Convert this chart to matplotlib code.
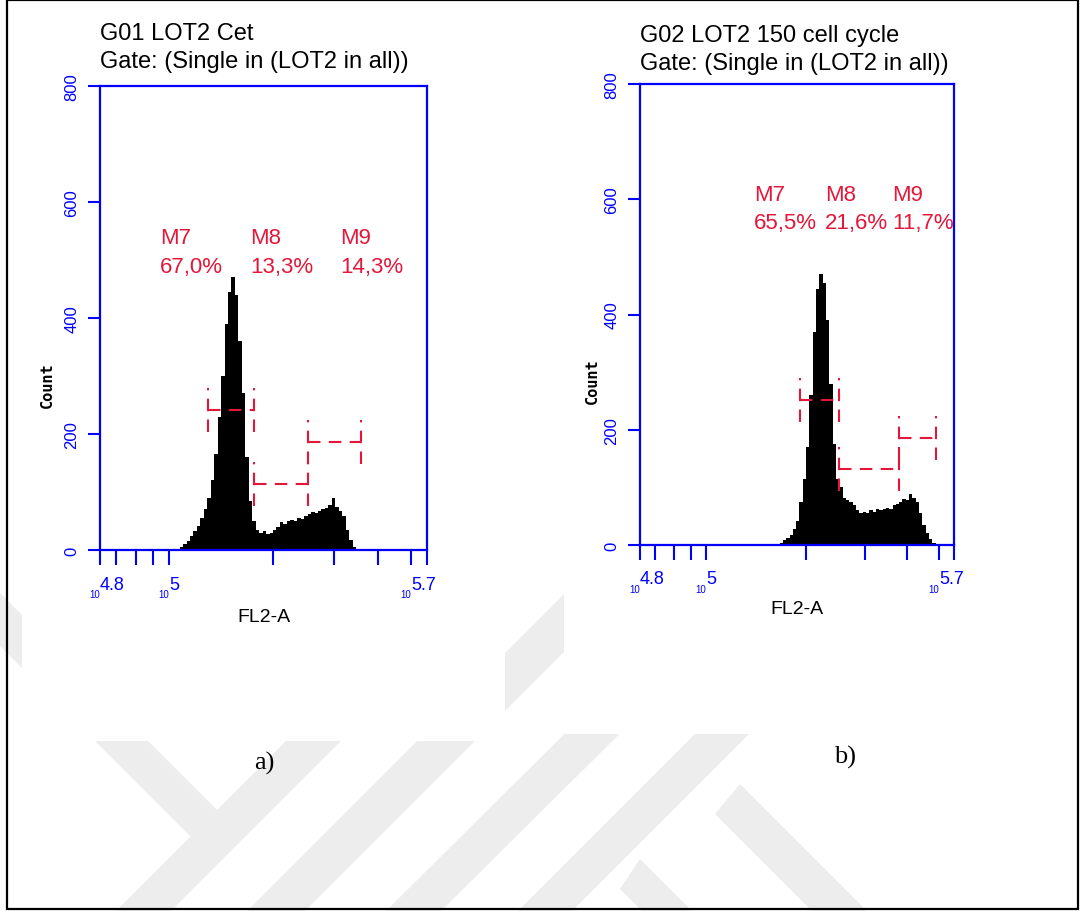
import matplotlib
matplotlib.use('Agg')
import matplotlib.pyplot as plt
import numpy as np
from matplotlib.patches import Polygon, Rectangle
from matplotlib.ticker import NullLocator
from matplotlib.transforms import blended_transform_factory

# ---- data (log10 of FL2-A bin start, bin width 0.01) ----
bins_a_start = 5.02
counts_a = [2, 6, 10, 16, 24, 32, 42, 55, 70, 90,
            120, 165, 230, 300, 390, 445, 470, 440, 360, 270,
            160, 85, 50, 35, 30, 32, 28, 30, 35, 40,
            48, 45, 50, 52, 50, 55, 53, 58, 62, 65,
            63, 68, 70, 72, 78, 90, 75, 68, 58, 35,
            18, 6, 2]

bins_b_start = 5.21
counts_b = [2, 4, 8, 12, 18, 28, 42, 75, 115, 170,
            260, 370, 445, 470, 455, 390, 280, 175, 115, 100,
            82, 78, 75, 70, 60, 55, 58, 55, 60, 58,
            62, 60, 62, 65, 62, 70, 72, 75, 80, 78,
            88, 82, 75, 55, 35, 20, 10, 4]

# marker gates: (log start, log end, count level)
gates_a = [(5.112, 5.245, 241), (5.245, 5.401, 114), (5.401, 5.554, 186)]
gates_b = [(5.282, 5.399, 252), (5.399, 5.580, 132), (5.580, 5.692, 186)]
gate_names = ['M7', 'M8', 'M9']
pct_a = ['67,0%', '13,3%', '14,3%']
pct_b = ['65,5%', '21,6%', '11,7%']
label_x_a = [4.973, 5.234, 5.494]
label_x_b = [5.143, 5.357, 5.559]

titles_a = ['G01 LOT2 Cet', 'Gate: (Single in (LOT2 in all))']
titles_b = ['G02 LOT2 150 cell cycle', 'Gate: (Single in (LOT2 in all))']

yticks = [0, 200, 400, 600, 800]
xticks = [10**4.8, 7e4, 8e4, 9e4, 1e5, 2e5, 3e5, 4e5, 5e5, 10**5.745]
xlabels = [(4.8, '4.8'), (5.0, '5'), (5.7, '5.7')]

W, H = 1081, 912
SANS = ['Liberation Sans', 'DejaVu Sans']
BLUE = '#0000ff'
RED = '#e3173a'

fig = plt.figure(figsize=(W / 100, H / 100), dpi=100)
fig.patch.set_facecolor('white')


def px(x, y):
    return (x / W, 1 - y / H)


# faint watermark behind the two pictures
wm = '#ededed'
bands = [
    [(-60, 534), (-60, 587), (210, 857), (237, 831)],     # Y left arm
    [(286, 742), (341, 742), (171, 912), (116, 912)],     # Y stem
    [(564, 595), (622, 595), (305, 912), (247, 912)],
    [(640, 660), (695, 660), (441, 912), (386, 912)],
    [(695, 735), (749, 735), (572, 912), (518, 912)],     # K long stroke
    [(740, 785), (715, 815), (815, 915), (870, 915)],
    [(640, 860), (620, 890), (650, 920), (700, 920)],
]
for b in bands:
    fig.patches.append(Polygon([px(*p) for p in b], closed=True, transform=fig.transFigure,
                               facecolor=wm, edgecolor='none', zorder=-3))
for (x0, y0, x1, y1) in [(22, 3, 505, 742), (564, 3, 1081, 735)]:
    fig.patches.append(Rectangle(px(x0, y1), (x1 - x0) / W, (y1 - y0) / H, transform=fig.transFigure,
                                 facecolor='white', edgecolor='none', zorder=-2))
# page border
fig.patches.append(Rectangle(px(7, 910), 1071 / W, 909 / H, transform=fig.transFigure,
                             facecolor='none', edgecolor='black', lw=1.6, zorder=5))


def panel(rect, start, counts, gates, pct, label_x, label_y, titles, title_y, count_pos, fl2_y, cap, cap_pos):
    ax = fig.add_axes(rect)
    ax.patch.set_alpha(0)
    edges = 10 ** (start + 0.01 * np.arange(len(counts) + 1))
    ax.stairs(counts, edges, fill=True, color='black', zorder=2)
    ax.set_xscale('log')
    ax.set_xlim(10**4.8, 10**5.745)
    ax.set_ylim(0, 800)
    for s in ax.spines.values():
        s.set_color(BLUE)
        s.set_linewidth(1.6)
    ax.set_xticks(xticks)
    ax.set_xticklabels([])
    ax.xaxis.set_minor_locator(NullLocator())
    ax.tick_params(axis='x', length=11, width=1.5, color=BLUE)
    ax.set_yticks(yticks)
    ax.set_yticklabels([str(v) for v in yticks], rotation=90, va='center',
                       color=BLUE, fontsize=12, family=SANS)
    ax.tick_params(axis='y', length=9, width=1.5, color=BLUE, pad=6)

    # gate markers
    for (g0, g1, lvl) in gates:
        kw = dict(color=RED, lw=1.5, dashes=(6, 4), zorder=3)
        ax.plot([10**g0, 10**g1], [lvl, lvl], **kw)
        ax.plot([10**g0, 10**g0], [lvl - 38, lvl + 38], **kw)
        ax.plot([10**g1, 10**g1], [lvl - 38, lvl + 38], **kw)
    for name, p, lx in zip(gate_names, pct, label_x):
        ax.text(10**lx, label_y, name, color=RED, fontsize=16, family=SANS, va='center', ha='left')
        ax.text(10**lx, label_y - 50, p, color=RED, fontsize=16, family=SANS, va='center', ha='left')

    # x tick labels like 10^4.8 with small base
    tr = blended_transform_factory(ax.transData, ax.transAxes)
    for v, s in xlabels:
        ax.text(10**v, -0.055, s, transform=tr, color=BLUE, fontsize=13, family=SANS,
                ha='left', va='top')
        ax.text(10**v, -0.085, '10', transform=tr, color=BLUE, fontsize=7, family=SANS,
                ha='right', va='top')

    x0 = rect[0] * W
    fig.text(*px(x0, title_y), titles[0], fontsize=17, family=SANS, va='baseline')
    fig.text(*px(x0, title_y + 28), titles[1], fontsize=17, family=SANS, va='baseline')
    fig.text(*px(*count_pos), 'Count', rotation=90, fontsize=11, family='DejaVu Sans Mono',
             weight='bold', ha='center', va='center')
    cx = (rect[0] + rect[2] / 2) * W
    fig.text(*px(cx, fl2_y), 'FL2-A', fontsize=14, family=SANS, ha='center', va='center')
    fig.text(*px(*cap_pos), cap, fontsize=19, family='Liberation Serif', ha='center', va='center')
    return ax


panel([100 / W, 1 - 551 / H, 327 / W, 464 / H], bins_a_start, counts_a, gates_a, pct_a, label_x_a,
      538, titles_a, 40, (47, 385), 617, 'a)', (264, 763))
panel([640 / W, 1 - 546 / H, 314 / W, 461 / H], bins_b_start, counts_b, gates_b, pct_b, label_x_b,
      609, titles_b, 42, (592, 381), 610, 'b)', (845, 757))

fig.savefig('out.png', dpi=100)
